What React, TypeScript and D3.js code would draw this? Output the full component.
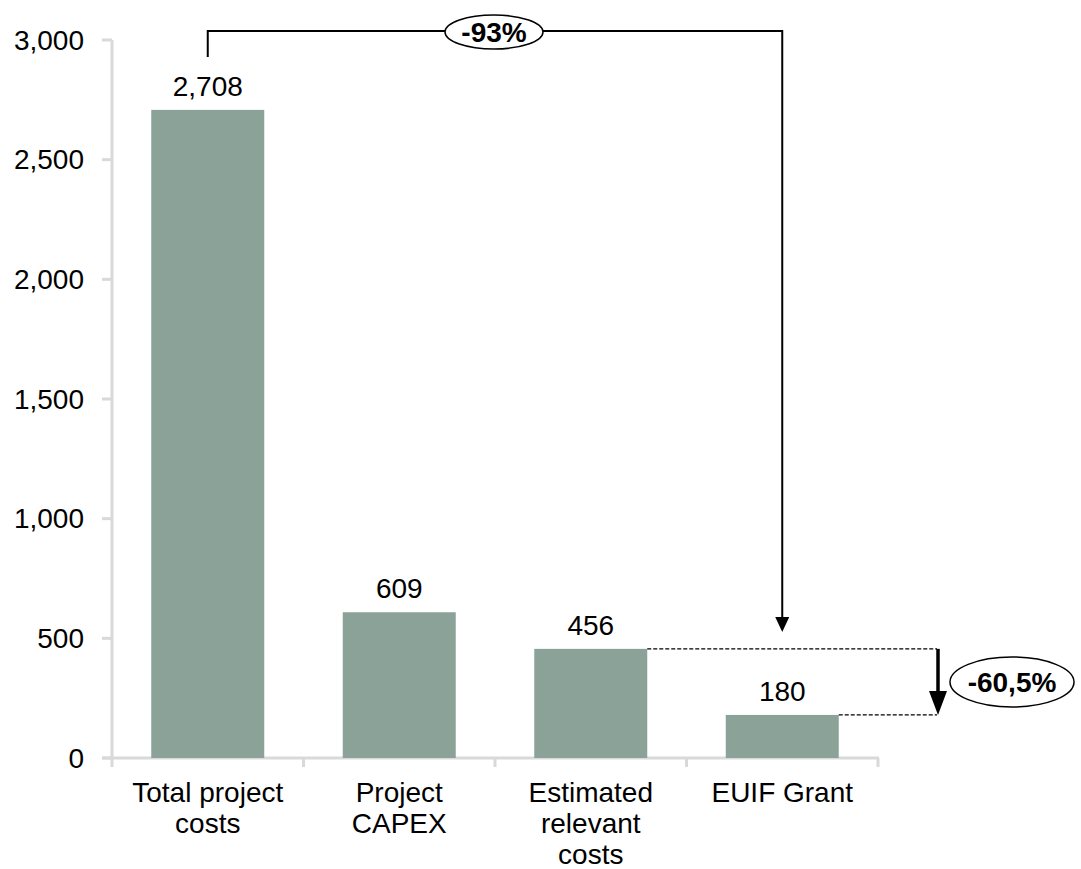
import React from "react";
import * as d3 from "d3";

const categories = ["Total project costs", "Project CAPEX", "Estimated relevant costs", "EUIF Grant"];
const categoryLines = [["Total project", "costs"], ["Project", "CAPEX"], ["Estimated", "relevant", "costs"], ["EUIF Grant"]];
const values = [2708, 609, 456, 180];
const valueLabels = ["2,708", "609", "456", "180"];
const yTicks = [0, 500, 1000, 1500, 2000, 2500, 3000];
const totalChangeLabel = "-93%";
const grantChangeLabel = "-60,5%";

const W = 1081;
const H = 869;
const left = 112;
const right = 878;
const top = 40;
const bottom = 758;
const font = "'Liberation Sans', Arial, sans-serif";
const FS = 28;

export default function App() {
  const y = d3.scaleLinear().domain([0, 3000]).range([bottom, top]);
  const x = d3.scaleBand<string>().domain(categories).range([left, right]).paddingInner(0.41).paddingOuter(0.205);
  const bw = x.bandwidth();
  const cx = (i: number) => (x(categories[i]) as number) + bw / 2;
  const boundaries = d3.range(categories.length + 1).map((i) => left + i * ((right - left) / categories.length));

  const bracketTop = 31;
  const c0 = cx(0);
  const c3 = cx(3);
  const y0lab = y(values[0]) - 53;
  const arrowTip = 632;

  const dashX = 937;
  const y2 = y(values[2]);
  const y3 = y(values[3]);

  return (
    <svg width={W} height={H} style={{ position: "absolute", left: 0, top: 0 }} fontFamily={font}>
      {/* axes */}
      <line x1={left} x2={left} y1={top} y2={bottom} stroke="#d9d9d9" strokeWidth={3} />
      <line x1={left - 10} x2={right + 1} y1={bottom} y2={bottom} stroke="#d9d9d9" strokeWidth={3} />
      {yTicks.map((t) => (
        <g key={t}>
          <line x1={left - 10} x2={left} y1={y(t)} y2={y(t)} stroke="#d9d9d9" strokeWidth={3} />
          <text x={84} y={y(t)} dy="0.35em" textAnchor="end" fontSize={FS} fill="#000">
            {d3.format(",")(t)}
          </text>
        </g>
      ))}
      {boundaries.map((b, i) => (
        <line key={i} x1={b} x2={b} y1={bottom} y2={bottom + 9} stroke="#d9d9d9" strokeWidth={3} />
      ))}
      {/* bars */}
      {values.map((v, i) => (
        <g key={i}>
          <rect x={x(categories[i])} y={y(v)} width={bw} height={y(0) - y(v)} fill="#8ba299" />
          <text x={cx(i)} y={y(v) - 14} textAnchor="middle" fontSize={FS} fill="#000">
            {valueLabels[i]}
          </text>
          {categoryLines[i].map((ln, j) => (
            <text key={j} x={cx(i)} y={802 + j * 31} textAnchor="middle" fontSize={FS} fill="#000">
              {ln}
            </text>
          ))}
        </g>
      ))}
      {/* -93% bracket */}
      <path
        d={`M${c0},${y0lab} L${c0},${bracketTop} L${c3},${bracketTop} L${c3},${arrowTip - 14}`}
        fill="none"
        stroke="#000"
        strokeWidth={2}
      />
      <path d={`M${c3 - 7},${arrowTip - 15} L${c3 + 7},${arrowTip - 15} L${c3},${arrowTip} z`} fill="#000" />
      <ellipse cx={494} cy={32} rx={49} ry={17} fill="#fff" stroke="#000" strokeWidth={1.5} />
      <text x={494} y={32} dy="0.35em" textAnchor="middle" fontSize={FS} fontWeight="bold">
        {totalChangeLabel}
      </text>
      {/* -60,5% */}
      <line x1={x(categories[2])! + bw} x2={dashX} y1={y2} y2={y2} stroke="#000" strokeWidth={1.3} strokeDasharray="4,2" />
      <line x1={x(categories[3])! + bw} x2={dashX} y1={y3} y2={y3} stroke="#000" strokeWidth={1.3} strokeDasharray="4,2" />
      <line x1={938} x2={938} y1={y2} y2={y3 - 22} stroke="#000" strokeWidth={3.5} />
      <path d={`M929,${y3 - 24} L947,${y3 - 24} L938,${y3} z`} fill="#000" />
      <ellipse cx={1012} cy={682} rx={62} ry={25} fill="#fff" stroke="#000" strokeWidth={1.5} />
      <text x={1012} y={682} dy="0.35em" textAnchor="middle" fontSize={FS} fontWeight="bold">
        {grantChangeLabel}
      </text>
    </svg>
  );
}
